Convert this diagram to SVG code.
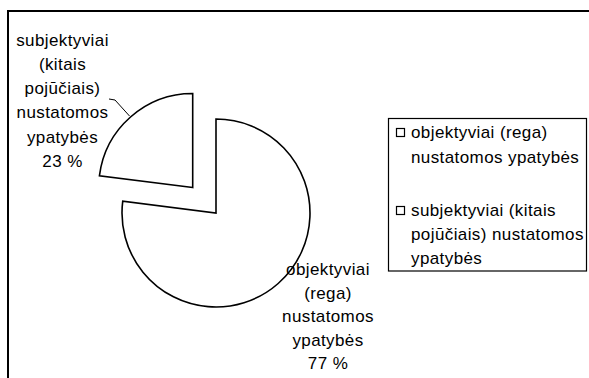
<svg xmlns="http://www.w3.org/2000/svg" width="589" height="378" viewBox="0 0 589 378">
<style>
text{font-family:"Liberation Sans",Arial,sans-serif;font-size:17px;fill:#000;letter-spacing:0.4px}
.c{text-anchor:middle}
.slice{fill:#fff;stroke:#000;stroke-width:1.6;stroke-linejoin:miter}
.leg{fill:#fff;stroke:#000;stroke-width:1.2}
.mk{fill:#fff;stroke:#000;stroke-width:1.2}
</style>
<rect x="0" y="0" width="589" height="378" fill="#fff"/>
<path d="M8,400 L8,11 L600,11" fill="none" stroke="#000" stroke-width="2"/>
<g id="pie">
<g id="slice-objektyviai"><path class="slice" d="M216,213 L216,119 A94,94 0 1 1 122.74,201.22 Z"/></g>
<g id="slice-subjektyviai"><path class="slice" d="M192.7,187.5 L99.44,175.72 A94,94 0 0 1 192.7,93.5 Z"/></g>
</g>
<g id="connectors"><polyline points="109,99 115,100 129.5,116" fill="none" stroke="#000" stroke-width="1"/></g>
<g id="label-subjektyviai">
<text class="c" x="62.5" y="46">subjektyviai</text>
<text class="c" x="62.5" y="70">(kitais</text>
<text class="c" x="62.5" y="94">pojūčiais)</text>
<text class="c" x="62.5" y="118">nustatomos</text>
<text class="c" x="62.5" y="142.5">ypatybės</text>
<text class="c" x="62.5" y="166.5">23 %</text>
</g>
<g id="label-objektyviai">
<text class="c" x="328" y="275">objektyviai</text>
<text class="c" x="328" y="298.5">(rega)</text>
<text class="c" x="328" y="322">nustatomos</text>
<text class="c" x="328" y="345.5">ypatybės</text>
<text class="c" x="328" y="369">77 %</text>
</g>
<g id="legend">
<rect class="leg" x="388.5" y="118.5" width="198" height="152.5"/>
<rect class="mk" x="396.5" y="128.5" width="8" height="8"/>
<text x="411" y="138">objektyviai (rega)</text>
<text x="411" y="163">nustatomos ypatybės</text>
<rect class="mk" x="396.5" y="206.5" width="8" height="8"/>
<text x="411" y="216">subjektyviai (kitais</text>
<text x="411" y="240">pojūčiais) nustatomos</text>
<text x="411" y="264">ypatybės</text>
</g>
</svg>
